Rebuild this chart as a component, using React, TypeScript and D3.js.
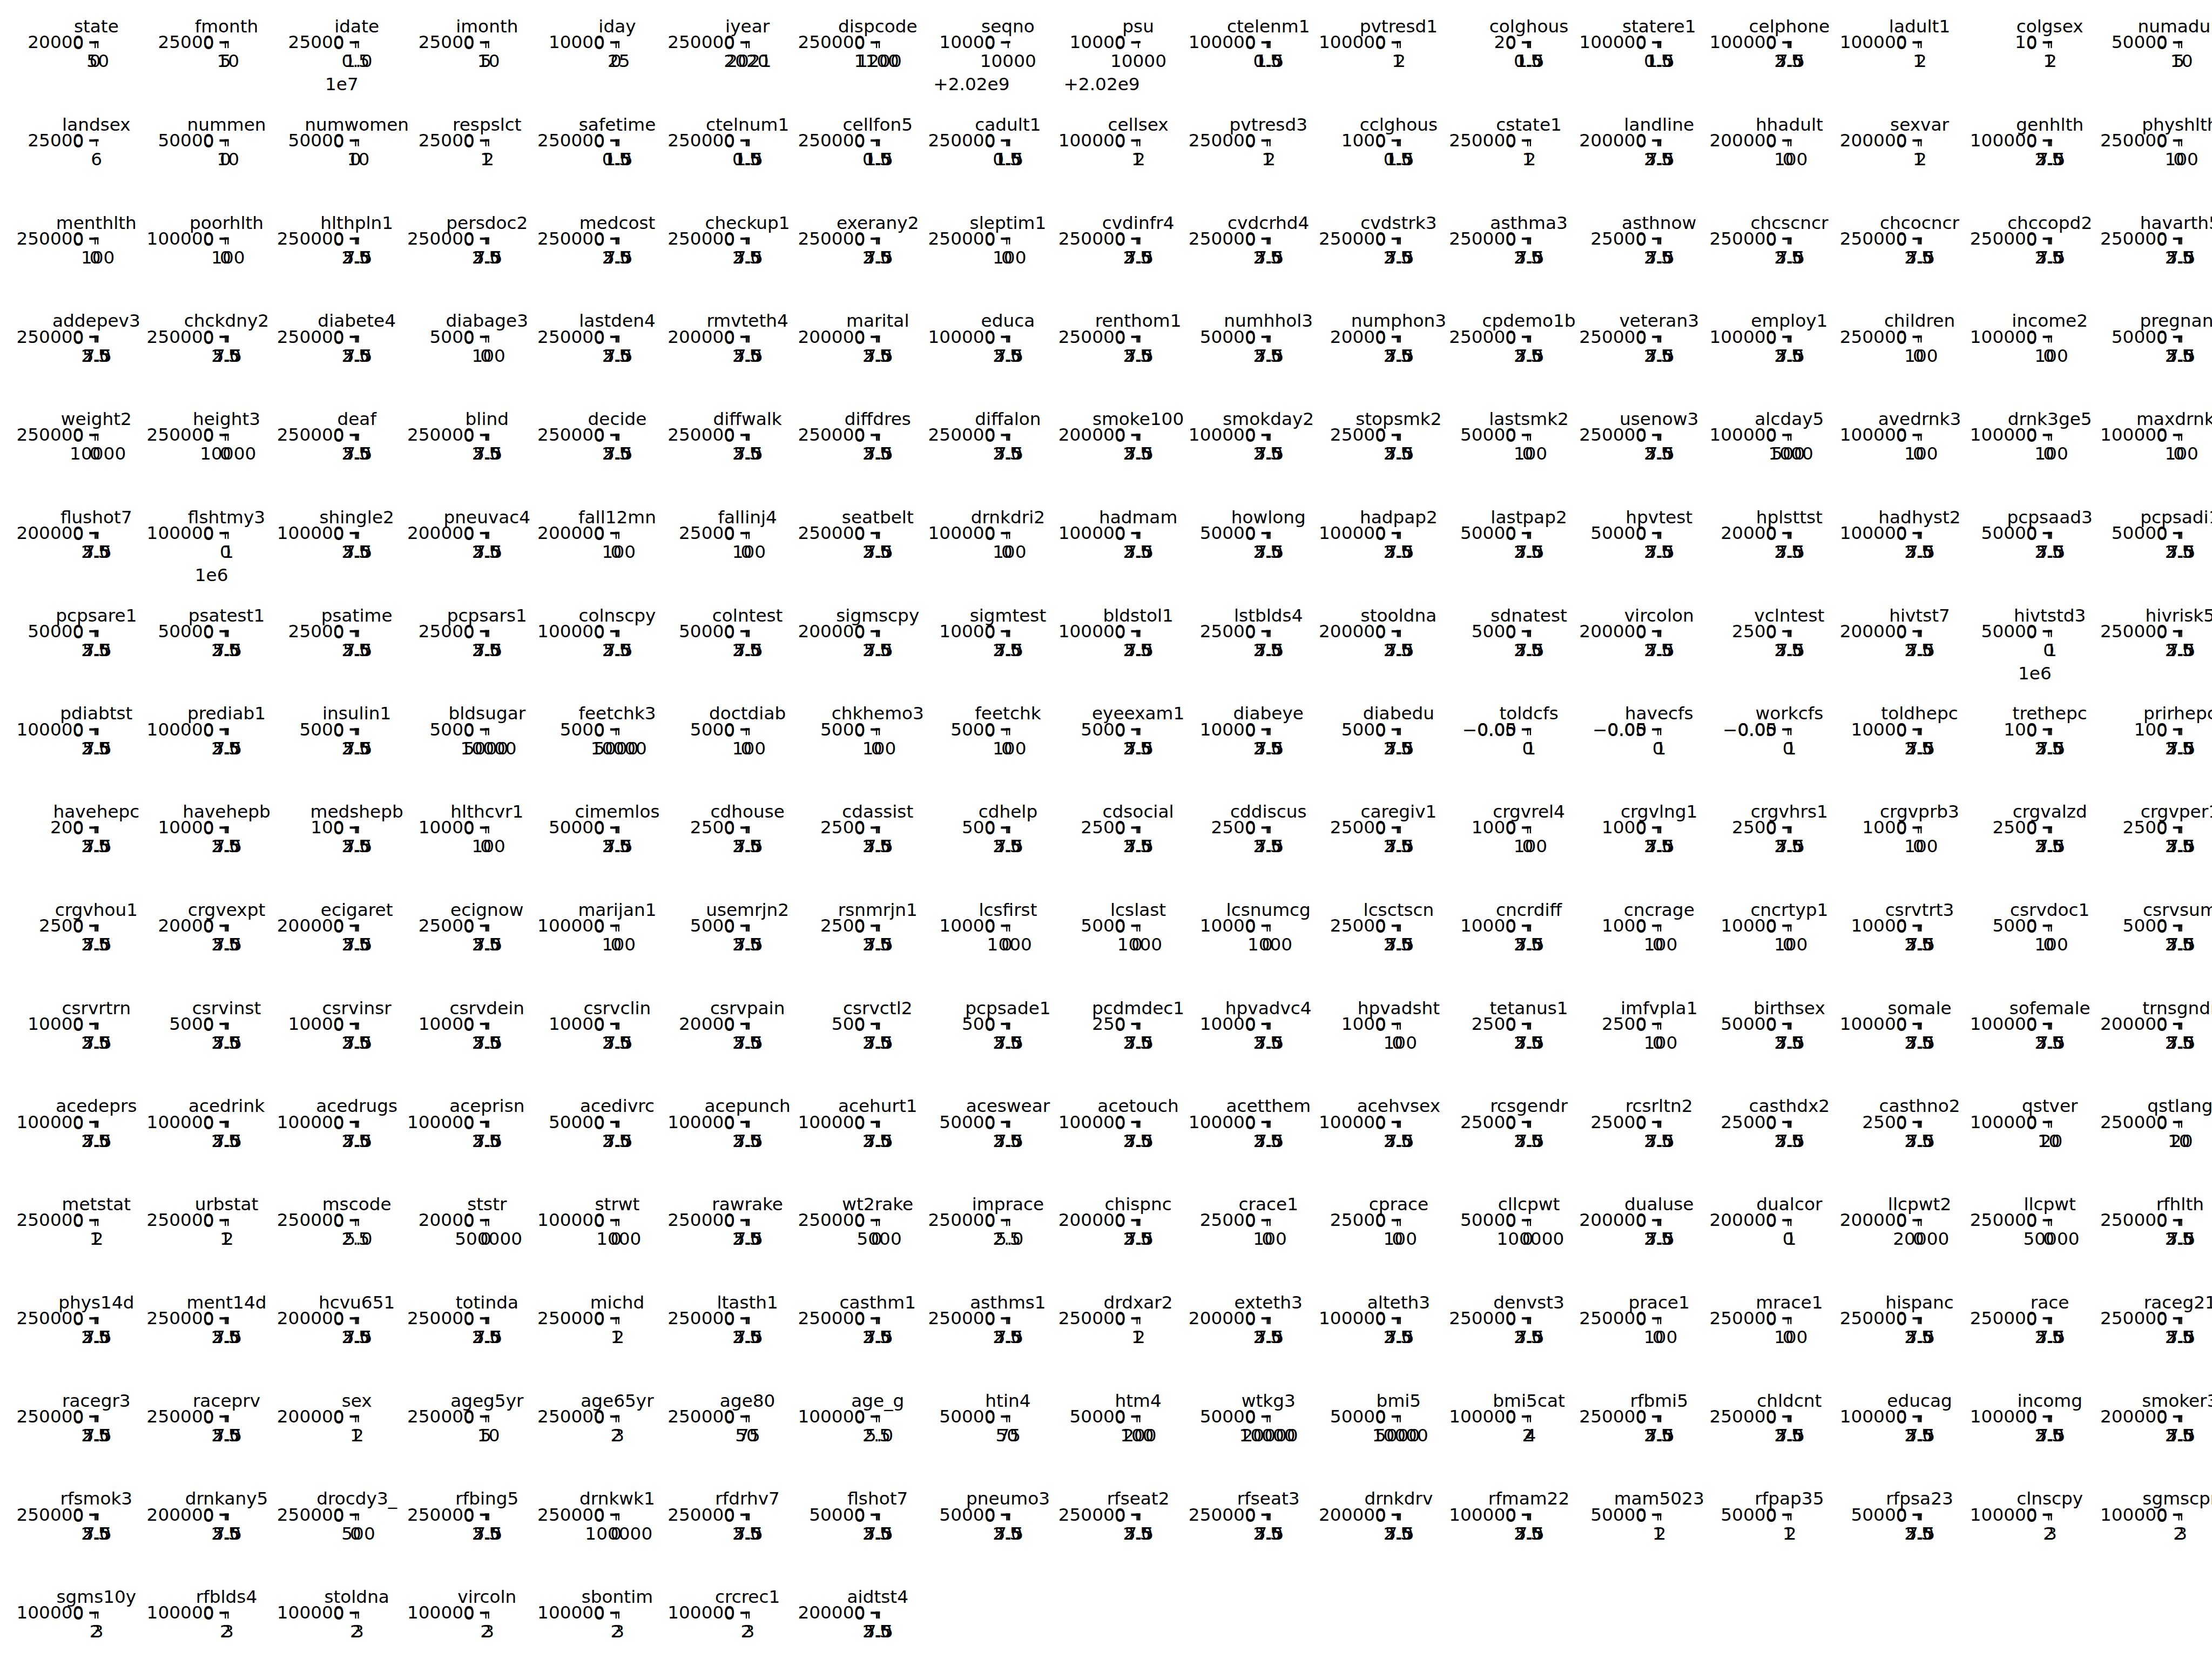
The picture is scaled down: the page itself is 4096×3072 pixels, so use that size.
import React, { useEffect, useRef } from 'react'
import * as d3 from 'd3'

// column titles, row by row (17 per row)
const names = [
  'state','fmonth','idate','imonth','iday','iyear','dispcode','seqno','psu','ctelenm1','pvtresd1','colghous','statere1','celphone','ladult1','colgsex','numadult',
  'landsex','nummen','numwomen','respslct','safetime','ctelnum1','cellfon5','cadult1','cellsex','pvtresd3','cclghous','cstate1','landline','hhadult','sexvar','genhlth','physhlth',
  'menthlth','poorhlth','hlthpln1','persdoc2','medcost','checkup1','exerany2','sleptim1','cvdinfr4','cvdcrhd4','cvdstrk3','asthma3','asthnow','chcscncr','chcocncr','chccopd2','havarth5',
  'addepev3','chckdny2','diabete4','diabage3','lastden4','rmvteth4','marital','educa','renthom1','numhhol3','numphon3','cpdemo1b','veteran3','employ1','children','income2','pregnant',
  'weight2','height3','deaf','blind','decide','diffwalk','diffdres','diffalon','smoke100','smokday2','stopsmk2','lastsmk2','usenow3','alcday5','avedrnk3','drnk3ge5','maxdrnks',
  'flushot7','flshtmy3','shingle2','pneuvac4','fall12mn','fallinj4','seatbelt','drnkdri2','hadmam','howlong','hadpap2','lastpap2','hpvtest','hplsttst','hadhyst2','pcpsaad3','pcpsadi1',
  'pcpsare1','psatest1','psatime','pcpsars1','colnscpy','colntest','sigmscpy','sigmtest','bldstol1','lstblds4','stooldna','sdnatest','vircolon','vclntest','hivtst7','hivtstd3','hivrisk5',
  'pdiabtst','prediab1','insulin1','bldsugar','feetchk3','doctdiab','chkhemo3','feetchk','eyeexam1','diabeye','diabedu','toldcfs','havecfs','workcfs','toldhepc','trethepc','prirhepc',
  'havehepc','havehepb','medshepb','hlthcvr1','cimemlos','cdhouse','cdassist','cdhelp','cdsocial','cddiscus','caregiv1','crgvrel4','crgvlng1','crgvhrs1','crgvprb3','crgvalzd','crgvper1',
  'crgvhou1','crgvexpt','ecigaret','ecignow','marijan1','usemrjn2','rsnmrjn1','lcsfirst','lcslast','lcsnumcg','lcsctscn','cncrdiff','cncrage','cncrtyp1','csrvtrt3','csrvdoc1','csrvsum',
  'csrvrtrn','csrvinst','csrvinsr','csrvdein','csrvclin','csrvpain','csrvctl2','pcpsade1','pcdmdec1','hpvadvc4','hpvadsht','tetanus1','imfvpla1','birthsex','somale','sofemale','trnsgndr',
  'acedeprs','acedrink','acedrugs','aceprisn','acedivrc','acepunch','acehurt1','aceswear','acetouch','acetthem','acehvsex','rcsgendr','rcsrltn2','casthdx2','casthno2','qstver','qstlang',
  'metstat','urbstat','mscode','ststr','strwt','rawrake','wt2rake','imprace','chispnc','crace1','cprace','cllcpwt','dualuse','dualcor','llcpwt2','llcpwt','rfhlth',
  'phys14d','ment14d','hcvu651','totinda','michd','ltasth1','casthm1','asthms1','drdxar2','exteth3','alteth3','denvst3','prace1','mrace1','hispanc','race','raceg21',
  'racegr3','raceprv','sex','ageg5yr','age65yr','age80','age_g','htin4','htm4','wtkg3','bmi5','bmi5cat','rfbmi5','chldcnt','educag','incomg','smoker3',
  'rfsmok3','drnkany5','drocdy3_','rfbing5','drnkwk1','rfdrhv7','flshot7','pneumo3','rfseat2','rfseat3','drnkdrv','rfmam22','mam5023','rfpap35','rfpsa23','clnscpy','sgmscpr',
  'sgms10y','rfblds4','stoldna','vircoln','sbontim','crcrec1','aidtst4',
]

// top y tick of each histogram (count axis); 0 means an empty column
const yTops = [
  20000,25000,25000,25000,10000,250000,250000,10000,10000,100000,100000,20,100000,100000,100000,10,50000,
  25000,50000,50000,25000,250000,250000,250000,250000,100000,250000,1000,250000,200000,200000,200000,100000,250000,
  250000,100000,250000,250000,250000,250000,250000,250000,250000,250000,250000,250000,25000,250000,250000,250000,250000,
  250000,250000,250000,5000,250000,200000,200000,100000,250000,50000,20000,250000,250000,100000,250000,100000,50000,
  250000,250000,250000,250000,250000,250000,250000,250000,200000,100000,25000,50000,250000,100000,100000,100000,100000,
  200000,100000,100000,200000,200000,25000,250000,100000,100000,50000,100000,50000,50000,20000,100000,50000,50000,
  50000,50000,25000,25000,100000,50000,200000,10000,100000,25000,200000,5000,200000,2500,200000,50000,250000,
  100000,100000,5000,5000,5000,5000,5000,5000,5000,10000,5000,0,0,0,10000,100,100,
  200,10000,100,10000,50000,2500,2500,500,2500,2500,25000,1000,1000,2500,1000,2500,2500,
  2500,20000,200000,25000,100000,5000,2500,10000,5000,10000,25000,10000,1000,10000,10000,5000,5000,
  10000,5000,10000,10000,10000,20000,500,500,250,10000,1000,2500,2500,50000,100000,100000,200000,
  100000,100000,100000,100000,50000,100000,100000,50000,100000,100000,100000,25000,25000,25000,2500,100000,250000,
  250000,250000,250000,20000,100000,250000,250000,250000,200000,25000,25000,50000,200000,200000,200000,250000,250000,
  250000,250000,200000,250000,250000,250000,250000,250000,250000,200000,100000,250000,250000,250000,250000,250000,250000,
  250000,250000,200000,250000,250000,250000,100000,50000,50000,50000,50000,100000,250000,250000,100000,100000,200000,
  250000,200000,250000,250000,250000,250000,50000,50000,250000,250000,200000,100000,50000,50000,50000,100000,100000,
  100000,100000,100000,100000,100000,100000,200000,
]

// x tick label sets that repeat
const A = ['2.5','5.0','7.5']
const B = ['0.5','1.0','1.5']
const C = ['1','2']
const D = ['0','100']
const E = ['2','3']
const Z1 = ['0','1']

const xTickLabels: string[][] = [
  ['0','50'],['5','10'],['0.5','1.0'],['5','10'],['0','25'],['2020','2021'],['1100','1200'],['10000'],['10000'],B,C,B,B,A,C,C,['5','10'],
  ['6'],['0','10'],['0','10'],C,B,B,B,B,C,C,B,C,A,D,C,A,D,
  D,D,A,A,A,A,A,D,A,A,A,A,A,A,A,A,A,
  A,A,A,D,A,A,A,A,A,A,A,A,A,A,D,D,A,
  ['0','10000'],['0','10000'],A,A,A,A,A,A,A,A,A,D,A,['500','1000'],D,D,D,
  A,Z1,A,A,D,D,A,D,A,A,A,A,A,A,A,A,A,
  A,A,A,A,A,A,A,A,A,A,A,A,A,A,A,Z1,A,
  A,A,A,['5000','10000'],['5000','10000'],D,D,D,A,A,A,Z1,Z1,Z1,A,A,A,
  A,A,A,D,A,A,A,A,A,A,A,D,A,A,D,A,A,
  A,A,A,A,D,A,A,['0','1000'],['0','1000'],['0','1000'],A,A,D,D,A,D,A,
  A,A,A,A,A,A,A,A,A,A,D,A,D,A,A,A,A,
  A,A,A,A,A,A,A,A,A,A,A,A,A,A,A,['10','20'],['10','20'],
  C,C,['2.5','5.0'],['0','500000'],['0','1000'],A,['0','5000'],['2.5','5.0'],A,D,D,['0','100000'],A,Z1,['0','20000'],['0','50000'],A,
  A,A,A,A,C,A,A,A,C,A,A,A,D,D,A,A,A,
  A,A,C,['5','10'],E,['50','75'],['2.5','5.0'],['50','75'],['100','200'],['10000','20000'],['5000','10000'],['2','4'],A,A,A,A,A,
  A,A,['0','500'],A,['0','100000'],A,A,A,A,A,A,A,C,C,A,E,E,
  E,E,E,E,E,E,A,
]

// axis offset texts
const offsetTexts: Record<string, string> = {
  idate: '1e7', seqno: '+2.02e9', psu: '+2.02e9', flshtmy3: '1e6', hivtstd3: '1e6',
}

const K = 0.682
const NCOL = 17
const FONT = "'DejaVu Sans', sans-serif"
const FS = 48
const AX_W = 9
const AX_H = 3
const TICK = 14.6
const PAD = 14.6
const LW = 3.3

export default function App() {
  const svgRef = useRef<SVGSVGElement>(null)

  useEffect(() => {
    const svg = d3.select(svgRef.current)
    svg.selectAll('*').remove()
    const root = svg.append('g').attr('transform', `scale(${K})`)

    // grid of subplots
    const colX = d3.scaleLinear().domain([0, 16]).range([257, 257 + 353.6 * 16])
    const rowY = d3.scaleLinear().domain([0, 16]).range([113, 113 + 266.5 * 16])

    names.forEach((name, i) => {
      const c = i % NCOL
      const r = Math.floor(i / NCOL)
      const g = root.append('g').attr('transform', `translate(${colX(c)},${rowY(r)})`)

      // x axis
      const labels = xTickLabels[i]
      const vals = labels.map(s => +s)
      let lo = d3.min(vals)!, hi = d3.max(vals)!
      if (lo === hi) { lo -= 1; hi += 1 }
      const pad = (hi - lo) * 0.12
      const x = d3.scaleLinear().domain([lo - pad, hi + pad]).range([0, AX_W])
      const lab = new Map(vals.map((v, j) => [v, labels[j]]))
      const xg = g.append('g')
        .attr('transform', `translate(0,${AX_H})`)
        .call(d3.axisBottom(x).tickValues(vals).tickFormat(d => lab.get(+d) ?? '')
          .tickSizeInner(TICK).tickSizeOuter(0).tickPadding(PAD + 3))
      xg.attr('font-size', FS).attr('font-family', FONT)
      xg.select('.domain').remove()
      xg.selectAll('.tick line').attr('stroke-width', LW)

      // y axis
      const top = yTops[i]
      const empty = top === 0
      const yTicks = empty ? [-0.05, 0, 0.05] : [0, top]
      const y = d3.scaleLinear()
        .domain(empty ? [-0.055, 0.055] : [0, top * 1.05])
        .range([AX_H, 0])
      const yg = g.append('g')
        .call(d3.axisLeft(y).tickValues(yTicks)
          .tickFormat(empty ? d3.format('.2f') : d3.format('d'))
          .tickSizeInner(TICK).tickSizeOuter(0).tickPadding(PAD))
      yg.attr('font-size', FS).attr('font-family', FONT)
      yg.select('.domain').remove()
      yg.selectAll('.tick line').attr('stroke-width', LW)
      yg.selectAll('.tick text').attr('dy', '0.36em')

      // spines
      g.append('rect')
        .attr('width', AX_W).attr('height', AX_H)
        .attr('fill', 'none').attr('stroke', '#000').attr('stroke-width', LW)

      // title
      g.append('text')
        .attr('x', AX_W / 2).attr('y', -25)
        .attr('text-anchor', 'middle')
        .attr('font-size', FS).attr('font-family', FONT)
        .text(name)

      const off = offsetTexts[name]
      if (off) {
        g.append('text')
          .attr('x', AX_W).attr('y', AX_H + 129)
          .attr('text-anchor', 'end')
          .attr('font-size', FS).attr('font-family', FONT)
          .text(off)
      }
    })
  }, [])

  return (
    <svg ref={svgRef} width={4096} height={3072}
      style={{ position: 'absolute', left: 0, top: 0, background: '#fff' }} />
  )
}
